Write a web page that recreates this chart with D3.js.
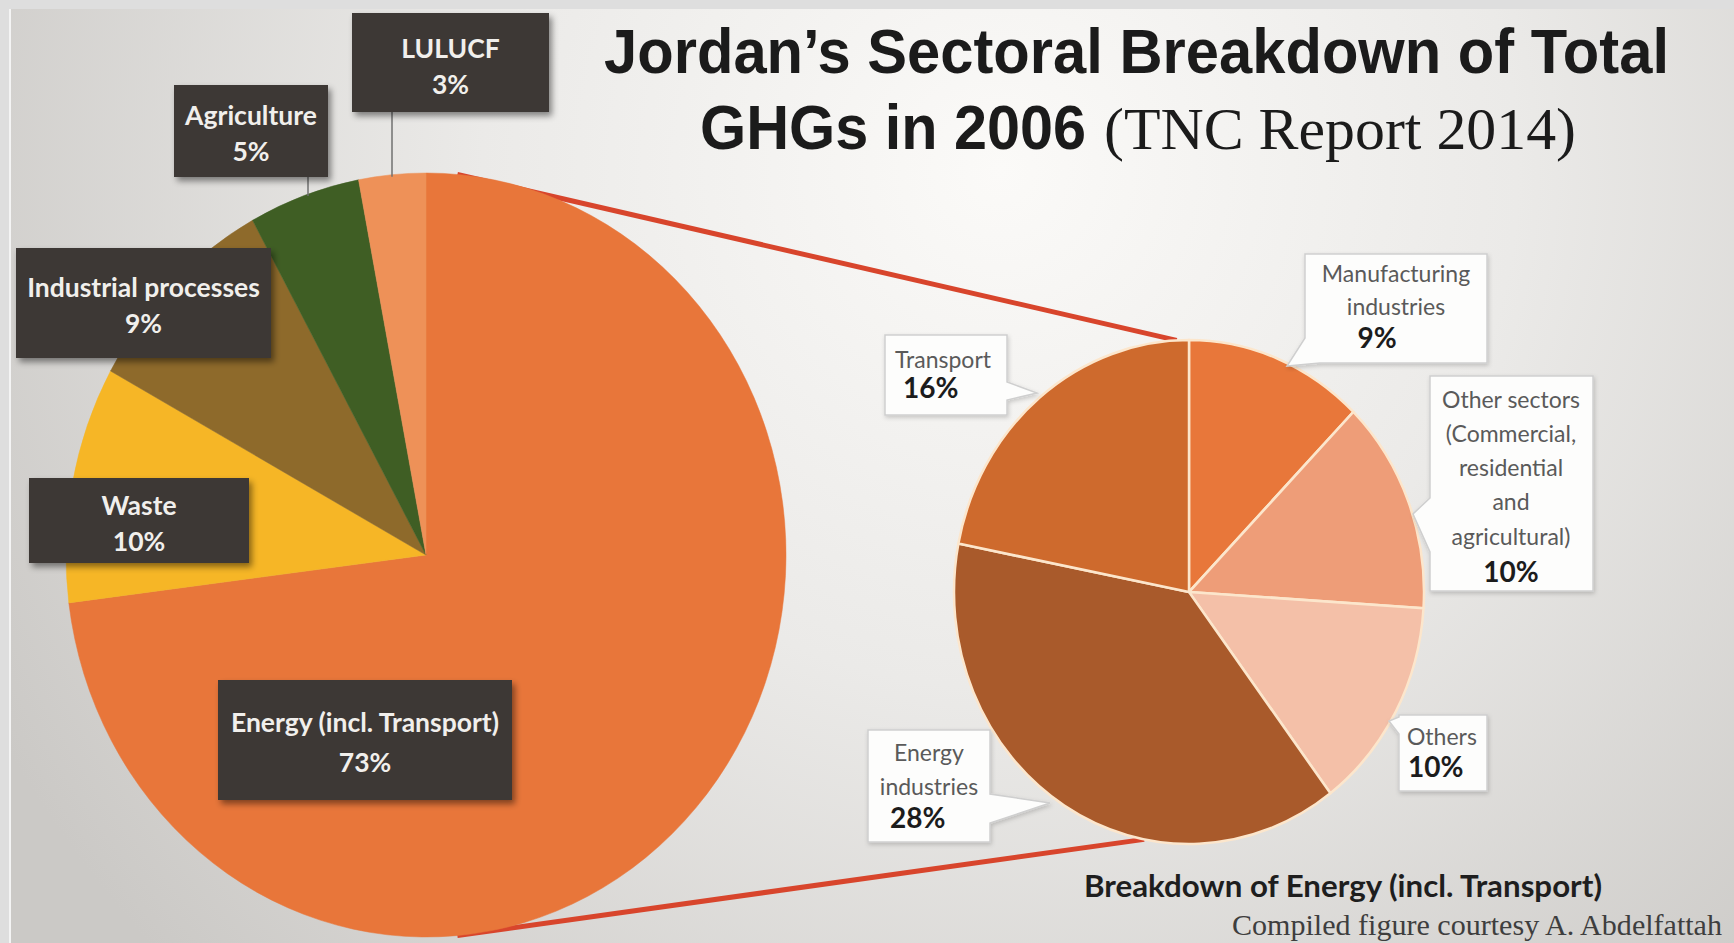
<!DOCTYPE html>
<html>
<head>
<meta charset="utf-8">
<script src="https://cdn.jsdelivr.net/npm/d3@7"></script>
<style>
  html, body { margin: 0; padding: 0; background: #dcdcdc; }
  svg { display: block; }
</style>
</head>
<body>
<svg id="chart" width="1734" height="943"></svg>
<script>
// ---------------- DATA ----------------
const mainCategories = ["Energy (incl. Transport)", "Waste", "Industrial processes", "Agriculture", "LULUCF"];
const mainValues = [73, 10, 9, 5, 3];
const mainLabelLines = [["Energy (incl. Transport)"], ["Waste"], ["Industrial processes"], ["Agriculture"], ["LULUCF"]];

const energyCategories = ["Manufacturing industries", "Other sectors (Commercial, residential and agricultural)", "Others", "Energy industries", "Transport"];
const energyValues = [9, 10, 10, 28, 16];
const energyLabelLines = [
  ["Manufacturing", "industries"],
  ["Other sectors", "(Commercial,", "residential", "and", "agricultural)"],
  ["Others"],
  ["Energy", "industries"],
  ["Transport"]
];

const titleLine1 = "Jordan\u2019s Sectoral Breakdown of Total";
const titleLine2Bold = "GHGs in 2006";
const titleLine2Serif = "(TNC Report 2014)";
const subTitle = "Breakdown of Energy (incl. Transport)";
const creditText = "Compiled figure courtesy A. Abdelfattah";

// ---------------- STYLE / LAYOUT ----------------
const mainColors = ["#E8763A", "#F6B626", "#8E6A2B", "#3F5E24", "#EE9158"];
const energyColors = ["#E8773A", "#EE9D78", "#F4C0A8", "#A95A2B", "#CE6A2D"];

const svg = d3.select("#chart");
const W = 1734, H = 943;

const defs = svg.append("defs");
const bg = defs.append("radialGradient").attr("id", "bg")
  .attr("gradientUnits", "userSpaceOnUse")
  .attr("cx", 1000).attr("cy", 170).attr("r", 1150);
bg.append("stop").attr("offset", 0).attr("stop-color", "#fbfaf8");
bg.append("stop").attr("offset", 0.45).attr("stop-color", "#ebeae8");
bg.append("stop").attr("offset", 1).attr("stop-color", "#cbc9c6");

const sh = defs.append("filter").attr("id", "shadow").attr("x", "-10%").attr("y", "-10%").attr("width", "130%").attr("height", "140%");
sh.append("feDropShadow").attr("dx", 3).attr("dy", 4).attr("stdDeviation", 3).attr("flood-color", "#000").attr("flood-opacity", 0.45);
const sh2 = defs.append("filter").attr("id", "shadow2").attr("x", "-10%").attr("y", "-10%").attr("width", "130%").attr("height", "140%");
sh2.append("feDropShadow").attr("dx", 1).attr("dy", 2).attr("stdDeviation", 2).attr("flood-color", "#000").attr("flood-opacity", 0.18);

svg.append("rect").attr("width", W).attr("height", H).attr("fill", "#dedede");
svg.append("rect").attr("x", 10).attr("y", 9).attr("width", W - 10).attr("height", H - 9).attr("fill", "url(#bg)");
svg.append("line").attr("x1", 10).attr("x2", 10).attr("y1", 9).attr("y2", H).attr("stroke", "#f4f4f4").attr("stroke-width", 2);

// ---------------- PIE GEOMETRY ----------------
const big = { cx: 426, cy: 555, rx: 360, ry: 382 };
const small = { cx: 1189, cy: 592, rx: 235, ry: 252 };

const pie = d3.pie().sort(null).value(d => d);
const mainArcs = pie(mainValues);
const energyArcs = pie(energyValues);

function ellPoint(p, ang) {
  return [p.cx + p.rx * Math.sin(ang), p.cy - p.ry * Math.cos(ang)];
}

// connector lines (drawn under pies)
const toRad = d => d * Math.PI / 180;
const c1a = ellPoint(big, toRad(5)), c1b = ellPoint(small, toRad(-3));
const c2a = ellPoint(big, toRad(175)), c2b = ellPoint(small, toRad(191));
svg.append("g").selectAll("line").data([[c1a, c1b], [c2a, c2b]]).join("line")
  .attr("x1", d => d[0][0]).attr("y1", d => d[0][1])
  .attr("x2", d => d[1][0]).attr("y2", d => d[1][1])
  .attr("stroke", "#D8452C").attr("stroke-width", 5);

// big pie
const bigG = svg.append("g")
  .attr("transform", `translate(${big.cx},${big.cy}) scale(1,${big.ry / big.rx})`);
const bigArc = d3.arc().innerRadius(0).outerRadius(big.rx);
bigG.selectAll("path").data(mainArcs).join("path")
  .attr("d", bigArc)
  .attr("fill", (d, i) => mainColors[i])
  .attr("stroke", (d, i) => mainColors[i]).attr("stroke-width", 0.5);

// small pie
const smallG = svg.append("g")
  .attr("transform", `translate(${small.cx},${small.cy}) scale(1,${small.ry / small.rx})`);
const smallArc = d3.arc().innerRadius(0).outerRadius(small.rx);
smallG.selectAll("path").data(energyArcs).join("path")
  .attr("d", smallArc)
  .attr("fill", (d, i) => energyColors[i])
  .attr("stroke", "#FCE6CC").attr("stroke-width", 2.5).attr("stroke-linejoin", "round");

// leader lines for the two small slices at top
const leaders = [
  { i: 4, x: 392, y1: 112 },
  { i: 3, x: 308, y1: 177 }
];
svg.append("g").selectAll("line").data(leaders).join("line")
  .attr("x1", d => d.x).attr("x2", d => d.x)
  .attr("y1", d => d.y1)
  .attr("y2", d => {
    const dx = (d.x - big.cx) / big.rx;
    return big.cy - big.ry * Math.sqrt(1 - dx * dx) + 2;
  })
  .attr("stroke", "#707070").attr("stroke-width", 1.5);

// ---------------- BIG PIE LABEL BOXES ----------------
const mainBoxes = [
  { x: 218, y: 680, w: 294, h: 120, ty: [722, 762] },
  { x: 29, y: 478, w: 220, h: 85, ty: [505, 541] },
  { x: 16, y: 248, w: 255, h: 110, ty: [287, 323] },
  { x: 174, y: 85, w: 154, h: 92, ty: [115, 151] },
  { x: 352, y: 13, w: 197, h: 99, ty: [48, 84] }
];
const boxG = svg.append("g");
mainBoxes.forEach((b, i) => {
  const g = boxG.append("g");
  g.append("rect").attr("x", b.x).attr("y", b.y).attr("width", b.w).attr("height", b.h)
    .attr("fill", "#3E3935").attr("filter", "url(#shadow)");
  const lines = mainLabelLines[i].concat([mainValues[i] + "%"]);
  lines.forEach((t, j) => {
    g.append("text").attr("x", b.x + b.w / 2).attr("y", b.ty[j]).attr("dy", "0.36em")
      .attr("text-anchor", "middle")
      .attr("font-family", "Lato, 'Open Sans', sans-serif").attr("font-weight", 700)
      .attr("font-size", 26.5).attr("fill", "#f1efec").text(t);
  });
});

// ---------------- SMALL PIE CALLOUTS ----------------
function calloutPath(b) {
  const { x, y, w, h } = b;
  const P = 2 * w + 2 * h;
  const tOf = (side, c) => side === "top" ? c - x : side === "right" ? w + (c - y)
    : side === "bottom" ? w + h + (x + w - c) : 2 * w + h + (y + h - c);
  const pt = t => {
    t = ((t % P) + P) % P;
    if (t <= w) return [x + t, y];
    if (t <= w + h) return [x + w, y + (t - w)];
    if (t <= 2 * w + h) return [x + w - (t - w - h), y + h];
    return [x, y + h - (t - 2 * w - h)];
  };
  const ta = tOf(b.a[0], b.a[1]);
  const tb = tOf(b.b[0], b.b[1]);
  let end = ta; if (end < tb) end += P;
  const cs = [];
  [0, w, w + h, 2 * w + h].forEach(c => { [c, c + P].forEach(t => { if (t > tb && t < end) cs.push(t); }); });
  cs.sort((p, q) => p - q);
  const pts = [pt(tb)].concat(cs.map(pt)).concat([pt(ta), b.tip]);
  return "M" + pts.map(p => p.join(",")).join("L") + "Z";
}

const energyBoxes = [
  { x: 1305, y: 254, w: 182, h: 109, a: ["bottom", 1320], b: ["left", 338], tip: [1287, 366],
    lines: [[1396, 274, "middle"], [1396, 307, "middle"]], pct: [1377, 338, "middle"] },
  { x: 1430, y: 376, w: 163, h: 215, a: ["left", 552], b: ["left", 498], tip: [1413, 514],
    lines: [[1511, 400, "middle"], [1511, 434, "middle"], [1511, 468, "middle"], [1511, 502, "middle"], [1511, 537, "middle"]], pct: [1511, 572, "middle"] },
  { x: 1399, y: 715, w: 88, h: 76, a: ["left", 734], b: ["left", 717], tip: [1389, 721],
    lines: [[1407, 737, "start"]], pct: [1408, 767, "start"] },
  { x: 868, y: 730, w: 122, h: 112, a: ["right", 794], b: ["right", 823], tip: [1050, 803],
    lines: [[929, 753, "middle"], [929, 787, "middle"]], pct: [890, 818, "start"] },
  { x: 885, y: 335, w: 122, h: 80, a: ["right", 382], b: ["right", 400], tip: [1037, 393],
    lines: [[895, 360, "start"]], pct: [903, 388, "start"] }
];

const calG = svg.append("g");
energyBoxes.forEach((b, i) => {
  const g = calG.append("g");
  g.append("path").attr("d", calloutPath(b))
    .attr("fill", "#fdfdfc").attr("stroke", "#cfcfcf").attr("stroke-width", 1.5)
    .attr("filter", "url(#shadow2)");
  energyLabelLines[i].forEach((t, j) => {
    const L = b.lines[j];
    g.append("text").attr("x", L[0]).attr("y", L[1]).attr("dy", "0.36em")
      .attr("text-anchor", L[2])
      .attr("font-family", "Lato, 'Open Sans', sans-serif").attr("font-weight", 400)
      .attr("font-size", 23).attr("fill", "#5a5a5a").text(t);
  });
  g.append("text").attr("x", b.pct[0]).attr("y", b.pct[1]).attr("dy", "0.36em")
    .attr("text-anchor", b.pct[2])
    .attr("font-family", "Lato, 'Open Sans', sans-serif").attr("font-weight", 700)
    .attr("font-size", 28).attr("fill", "#1c1c1c").text(energyValues[i] + "%");
});

// ---------------- TITLES ----------------
svg.append("text").attr("x", 604).attr("y", 73)
  .attr("font-family", "'Liberation Sans', Arial, sans-serif").attr("font-weight", 700)
  .attr("font-size", 63).attr("fill", "#1b1b1b")
  .attr("textLength", 1065).attr("lengthAdjust", "spacingAndGlyphs")
  .text(titleLine1);
svg.append("text").attr("x", 700).attr("y", 149)
  .attr("font-family", "'Liberation Sans', Arial, sans-serif").attr("font-weight", 700)
  .attr("font-size", 63).attr("fill", "#1b1b1b")
  .attr("textLength", 386).attr("lengthAdjust", "spacingAndGlyphs")
  .text(titleLine2Bold);
svg.append("text").attr("x", 1104).attr("y", 149)
  .attr("font-family", "'Liberation Serif', 'DejaVu Serif', serif").attr("font-weight", 400)
  .attr("font-size", 60).attr("fill", "#1b1b1b")
  .attr("textLength", 472).attr("lengthAdjust", "spacingAndGlyphs")
  .text(titleLine2Serif);

svg.append("text").attr("x", 1084).attr("y", 897)
  .attr("font-family", "Lato, 'Open Sans', sans-serif").attr("font-weight", 700)
  .attr("font-size", 30).attr("fill", "#1e1e1e")
  .attr("textLength", 518).attr("lengthAdjust", "spacingAndGlyphs")
  .text(subTitle);
svg.append("text").attr("x", 1232).attr("y", 935)
  .attr("font-family", "'Liberation Serif', 'DejaVu Serif', serif").attr("font-weight", 400)
  .attr("font-size", 30).attr("fill", "#3e3e3e")
  .attr("textLength", 490).attr("lengthAdjust", "spacingAndGlyphs")
  .text(creditText);
</script>
</body>
</html>
